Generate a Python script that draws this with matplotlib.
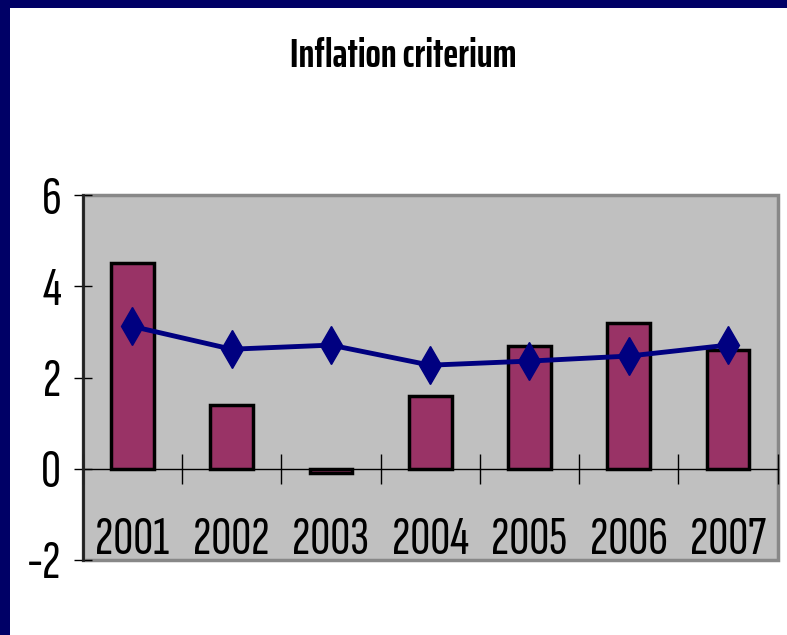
import numpy as np
import matplotlib.pyplot as plt
import matplotlib as mpl
from matplotlib.patches import Rectangle

years = ['2001', '2002', '2003', '2004', '2005', '2006', '2007']
bar_values = [4.5, 1.4, -0.1, 1.6, 2.7, 3.2, 2.6]
line_values = [3.12, 2.62, 2.71, 2.27, 2.36, 2.47, 2.71]
y_ticks = [-2, 0, 2, 4, 6]

tick_font = ['Sofia Sans Extra Condensed', 'DejaVu Sans']
title_font = ['Saira ExtraCondensed', 'DejaVu Sans']
mpl.rcParams['font.family'] = tick_font

fig = plt.figure(figsize=(7.87, 6.35), dpi=100)
fig.patch.set_facecolor('white')

# navy frame of the slide
fig.patches.append(Rectangle((0, 0), 10 / 787, 1, transform=fig.transFigure,
                             facecolor='#000066', edgecolor='none', zorder=0))
fig.patches.append(Rectangle((0, 1 - 8 / 635), 1, 8 / 635, transform=fig.transFigure,
                             facecolor='#000066', edgecolor='none', zorder=0))

ax = fig.add_axes([82.7 / 787, 1 - 560 / 635, 695 / 787, 365 / 635])
ax.set_facecolor('#C0C0C0')

x = np.arange(len(years))
ax.bar(x, bar_values, width=0.43, color='#993366', edgecolor='black', linewidth=2.5, zorder=3)
ax.plot(x, line_values, color='#000080', linewidth=3.5, marker='d', markersize=19,
        markerfacecolor='#000080', markeredgecolor='#000080', zorder=4)

ax.set_xlim(-0.5, 6.5)
ax.set_ylim(-2, 6)
ax.set_yticks(y_ticks)
ax.set_yticklabels([str(t) for t in y_ticks], fontsize=40)
ax.tick_params(axis='y', direction='inout', length=13, width=1, pad=9, color='black')

# category axis sits on zero
ax.spines['bottom'].set_position(('data', 0))
ax.spines['bottom'].set_color('black')
ax.spines['bottom'].set_linewidth(1)
ax.spines['bottom'].set_zorder(5)
ax.set_xticks(x)
ax.set_xticklabels(years, fontsize=40)
ax.set_xticks(np.arange(-0.5, 7, 1), minor=True)
ax.tick_params(axis='x', which='major', length=0, pad=35)
ax.tick_params(axis='x', which='minor', direction='inout', length=22, width=1, color='black')

ax.spines['top'].set_visible(False)
ax.spines['right'].set_visible(False)
ax.spines['left'].set_color('#202020')
ax.spines['left'].set_linewidth(2)
ax.spines['left'].set_zorder(6)
ax.add_patch(Rectangle((0, 0), 1, 1, transform=ax.transAxes, fill=False,
                       edgecolor='#888888', linewidth=2.5, clip_on=False, zorder=1))

fig.text(0.512, 1 - 67 / 635, 'Inflation criterium', ha='center', va='baseline',
         fontsize=29, fontweight='bold', family=title_font)

plt.savefig('out.png', dpi=100)
